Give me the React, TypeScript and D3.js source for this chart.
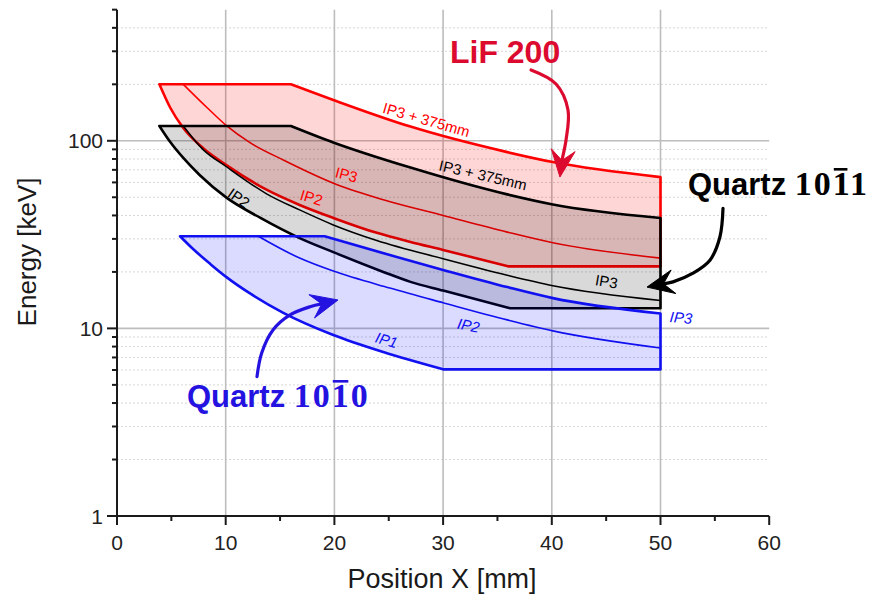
import React, { useLayoutEffect, useRef, useState } from "react";
import * as d3 from "d3";

const W = 875;
const H = 594;

// axis domains and ticks
const xDomain: [number, number] = [0, 60];
const yDomain: [number, number] = [1, 500];
const xTicksMajor = [0, 10, 20, 30, 40, 50, 60];
const xTicksMinor = [5, 15, 25, 35, 45, 55];
const xGrid = [10, 20, 30, 40, 50];
const yTicksMajor = [1, 10, 100];
const yGrid = [10, 100];
const yTicksMinor = [2, 3, 4, 5, 6, 7, 8, 9, 20, 30, 40, 50, 60, 70, 80, 90, 200, 300, 400, 500];

// LiF 200 coverage: [position mm, energy keV]
const lifTopFlat = [[3.9, 200], [16, 200]];
const lifTopCurve = [[16, 200], [19.9, 165], [27, 119], [35.9, 87], [40.1, 77], [50, 64]];
const lifBottomFlat = [[50, 21.4], [36, 21.4]];
const lifIP2 = [[3.9, 200], [4.9, 150], [6.1, 117], [7.9, 91.5], [10.1, 74], [13.8, 54.7], [16.8, 45.5], [19.9, 38.8], [23.9, 32.3], [27, 28.9], [30, 26.2], [36, 21.4]];
const lifIP3 = [[6.1, 200], [8.3, 150], [10.1, 120], [12.2, 98], [15.3, 79], [20.2, 58.5], [24.5, 48.5], [30, 40], [35.9, 32.6], [40.1, 28.6], [50, 23.7]];

// Quartz 10-11 coverage
const q11TopFlat = [[3.9, 120], [16, 120]];
const q11TopCurve = [[16, 120], [19.9, 98], [27, 72], [35.9, 51.8], [40.1, 45.8], [50, 38.8]];
const q11BottomFlat = [[50, 12.8], [36.2, 12.8]];
const q11IP2 = [[3.9, 120], [4.9, 98.5], [6.1, 81], [7.6, 65.7], [10.1, 49.6], [13.2, 38.8], [16.8, 30.3], [19.9, 25.5], [24.5, 20], [27, 17.7], [30, 15.9], [36.2, 12.8]];
const q11IP3 = [[6.1, 120], [7.9, 90], [10.1, 72.5], [13.8, 52], [16.8, 42.8], [19.9, 35.6], [23.9, 29.4], [30, 23.5], [35.9, 19.2], [40.1, 16.9], [50, 14.1]];

// Quartz 10-10 coverage
const q10TopFlat = [[5.8, 31], [19.1, 31]];
const q10IP3 = [[19.1, 31], [25.1, 24.6], [30, 20.5], [35.9, 16.6], [40.1, 14.5], [50, 12.0]];
const q10BottomFlat = [[50, 6.05], [30, 6.05]];
const q10IP1 = [[5.8, 31], [7, 26.5], [8.6, 22], [10.1, 18.7], [12.2, 15.4], [15.3, 12.1], [19.9, 9.22], [24.5, 7.48], [30, 6.05]];
const q10IP2 = [[13, 31], [16.8, 23.7], [19.9, 20.2], [25.1, 16.4], [30, 13.7], [35.9, 11.1], [40.1, 9.7], [50, 7.86]];

// curve labels: text, position, energy, rotation
const RED = "#ff0000";
const BLUE = "#1010f0";
const BLACK = "#000000";
const curveLabels = [
  { text: "IP3 + 375mm", x: 28.46, e: 129.6, rot: 16, color: RED, italic: false },
  { text: "IP3", x: 21.11, e: 66.1, rot: 15, color: RED, italic: false },
  { text: "IP2", x: 17.89, e: 49.9, rot: 17, color: RED, italic: false },
  { text: "IP3 + 375mm", x: 33.67, e: 65.7, rot: 13, color: BLACK, italic: false },
  { text: "IP2", x: 11.22, e: 49.6, rot: 35, color: BLACK, italic: false },
  { text: "IP3", x: 45.03, e: 17.8, rot: 10, color: BLACK, italic: false },
  { text: "IP3", x: 51.89, e: 11.43, rot: 5, color: BLUE, italic: true },
  { text: "IP2", x: 32.34, e: 10.4, rot: 11, color: BLUE, italic: true },
  { text: "IP1", x: 24.79, e: 8.68, rot: 16, color: BLUE, italic: true },
];

// annotation callouts
const CRIMSON = "#dc0a2e";
const INDIGO = "#2412e0";
const lifArrow = [[38.09, 238.5], [40.39, 200.8], [41.49, 146], [41.31, 101], [40.94, 79], [40.75, 64.1]];
const q11Arrow = [[55.75, 43.6], [55.47, 30.8], [54.55, 23.1], [52.99, 19.7], [51.15, 17.7], [48.76, 16.6]];
const q10Arrow = [[12.88, 5.53], [13.31, 7.39], [14.35, 9.8], [15.92, 11.79], [17.76, 13.05], [20.33, 14.17]];

const x = d3.scaleLinear().domain(xDomain).range([117, 769.2]);
const y = d3.scaleLog().domain(yDomain).range([516, 9.66]);

const makeLine = (curve: d3.CurveFactory) =>
  d3.line<number[]>().x((d) => x(d[0])).y((d) => y(d[1])).curve(curve);
const smooth = makeLine(d3.curveMonotoneX);
const straight = makeLine(d3.curveLinear);

function joinPaths(parts: string[]) {
  return parts.map((p, i) => (i === 0 ? p : "L" + p.slice(1))).join("") + "Z";
}

function region(topFlat: number[][], topCurve: number[][], bottomFlat: number[][], lower: number[][]) {
  const right = [topCurve[topCurve.length - 1], bottomFlat[0]];
  return joinPaths([
    straight(topFlat) as string,
    smooth(topCurve) as string,
    straight(right) as string,
    straight(bottomFlat) as string,
    smooth([...lower].reverse()) as string,
  ]);
}

function Arrow({ pts, color }: { pts: number[][]; color: string }) {
  const px = pts.map((p) => [x(p[0]), y(p[1])]);
  const tip = px[px.length - 1];
  const prev = px[px.length - 2];
  const dx = tip[0] - prev[0];
  const dy = tip[1] - prev[1];
  const len = Math.hypot(dx, dy);
  const ux = dx / len;
  const uy = dy / len;
  const nx = -uy;
  const ny = ux;
  const L = 27;
  const Wd = 12;
  const bx = tip[0] - L * ux;
  const by = tip[1] - L * uy;
  const notch = [tip[0] - 0.62 * L * ux, tip[1] - 0.62 * L * uy];
  const head = `M${tip[0]},${tip[1]}L${bx + Wd * nx},${by + Wd * ny}L${notch[0]},${notch[1]}L${bx - Wd * nx},${by - Wd * ny}Z`;
  const shaft = d3.line().curve(d3.curveCatmullRom.alpha(0.5))(
    px.slice(0, -1).concat([notch]) as [number, number][]
  ) as string;
  return (
    <g>
      <path d={shaft} fill="none" stroke={color} strokeWidth={3.2} strokeLinecap="round" />
      <path d={head} fill={color} stroke={color} strokeWidth={1} strokeLinejoin="round" />
    </g>
  );
}

function QuartzLabel({ xv, ev, digits, barIndex, color }: { xv: number; ev: number; digits: string; barIndex: number; color: string }) {
  const ref = useRef<SVGTextElement>(null);
  const [bar, setBar] = useState<{ x1: number; x2: number } | null>(null);
  const bx = x(xv);
  const by = y(ev);
  useLayoutEffect(() => {
    const t = ref.current;
    if (!t) return;
    const ext = t.getExtentOfChar("Quartz ".length + barIndex);
    setBar({ x1: ext.x + 1, x2: ext.x + ext.width - 2.5 });
  }, []);
  return (
    <g>
      <text ref={ref} x={bx} y={by} fill={color}>
        <tspan fontFamily="'Liberation Sans', Arial, sans-serif" fontWeight="bold" fontSize={31}>Quartz </tspan>
        <tspan fontFamily="'Liberation Serif', 'Times New Roman', serif" fontWeight="bold" fontSize={34} letterSpacing={2}>{digits}</tspan>
      </text>
      {bar && <rect x={bar.x1} y={by - 27} width={bar.x2 - bar.x1} height={2.6} fill={color} />}
    </g>
  );
}

export default function App() {
  const font = "'Liberation Sans', Arial, sans-serif";
  const x0 = x(0);
  const x1 = x(60);
  const y0 = y(1);
  const yTop = y(500);
  return (
    <svg width={W} height={H} style={{ position: "absolute", left: 0, top: 0, background: "#fff" }} fontFamily={font}>
      <rect x={0} y={0} width={W} height={H} fill="#fff" />
      {/* minor grid */}
      {yTicksMinor.filter((v) => v < 500).map((v) => (
        <line key={"gm" + v} x1={x0} x2={x1} y1={y(v)} y2={y(v)} stroke="#d6d6d6" strokeWidth={1} strokeDasharray="2,2" />
      ))}
      {/* major grid */}
      {yGrid.map((v) => (
        <line key={"gy" + v} x1={x0} x2={x1} y1={y(v)} y2={y(v)} stroke="#bdbdbd" strokeWidth={1.6} />
      ))}
      {xGrid.map((v) => (
        <line key={"gx" + v} x1={x(v)} x2={x(v)} y1={yTop} y2={y0} stroke="#bdbdbd" strokeWidth={1.6} />
      ))}

      {/* coverage regions */}
      <path d={region(lifTopFlat, lifTopCurve, lifBottomFlat, lifIP2)} fill="rgba(255,0,0,0.16)" stroke={RED} strokeWidth={2.6} strokeLinejoin="round" />
      <path d={smooth(lifIP3) as string} fill="none" stroke={RED} strokeWidth={1.6} />

      <path d={region(q11TopFlat, q11TopCurve, q11BottomFlat, q11IP2)} fill="rgba(0,0,0,0.15)" stroke={BLACK} strokeWidth={2.6} strokeLinejoin="round" />
      <path d={smooth(q11IP3) as string} fill="none" stroke={BLACK} strokeWidth={1.5} />

      <path d={region(q10TopFlat, q10IP3, q10BottomFlat, q10IP1)} fill="rgba(0,0,255,0.14)" stroke={BLUE} strokeWidth={2.6} strokeLinejoin="round" />
      <path d={smooth(q10IP2) as string} fill="none" stroke={BLUE} strokeWidth={1.6} />

      {/* curve labels */}
      {curveLabels.map((l, i) => (
        <text
          key={"cl" + i}
          transform={`translate(${x(l.x)},${y(l.e)}) rotate(${l.rot})`}
          textAnchor="middle"
          dominantBaseline="central"
          fontSize={15}
          fontStyle={l.italic ? "italic" : "normal"}
          fill={l.color}
        >
          {l.text}
        </text>
      ))}

      {/* axes */}
      <line x1={x0} x2={x1} y1={y0} y2={y0} stroke="#1a1a1a" strokeWidth={2} />
      <line x1={x0} x2={x0} y1={y0 + 1} y2={yTop} stroke="#1a1a1a" strokeWidth={2} />
      {xTicksMajor.map((v) => (
        <g key={"xt" + v}>
          <line x1={x(v)} x2={x(v)} y1={y0} y2={y0 + 9} stroke="#1a1a1a" strokeWidth={2} />
          <text x={x(v)} y={550} textAnchor="middle" fontSize={21} fill="#222">{v}</text>
        </g>
      ))}
      {xTicksMinor.map((v) => (
        <line key={"xm" + v} x1={x(v)} x2={x(v)} y1={y0} y2={y0 + 5} stroke="#1a1a1a" strokeWidth={2} />
      ))}
      {yTicksMajor.map((v) => (
        <g key={"yt" + v}>
          <line x1={x0 - 10} x2={x0} y1={y(v)} y2={y(v)} stroke="#1a1a1a" strokeWidth={2} />
          <text x={103} y={y(v)} textAnchor="end" dominantBaseline="central" fontSize={21} fill="#222">{v}</text>
        </g>
      ))}
      {yTicksMinor.map((v) => (
        <line key={"ym" + v} x1={x0 - 5} x2={x0} y1={y(v)} y2={y(v)} stroke="#1a1a1a" strokeWidth={2} />
      ))}
      <text x={(x0 + x1) / 2 - 1} y={588} textAnchor="middle" fontSize={27} fill="#1a1a1a">Position X [mm]</text>
      <text transform={`translate(36,252) rotate(-90)`} textAnchor="middle" fontSize={26} fill="#1a1a1a">Energy [keV]</text>

      {/* callouts */}
      <Arrow pts={lifArrow} color={CRIMSON} />
      <text x={x(30.63)} y={y(259.8)} fontSize={32} fontWeight="bold" fill={CRIMSON}>LiF 200</text>
      <Arrow pts={q11Arrow} color={BLACK} />
      <QuartzLabel xv={52.53} ev={51.4} digits="1011" barIndex={2} color={BLACK} />
      <Arrow pts={q10Arrow} color={INDIGO} />
      <QuartzLabel xv={6.44} ev={3.81} digits="1010" barIndex={2} color={INDIGO} />
    </svg>
  );
}
